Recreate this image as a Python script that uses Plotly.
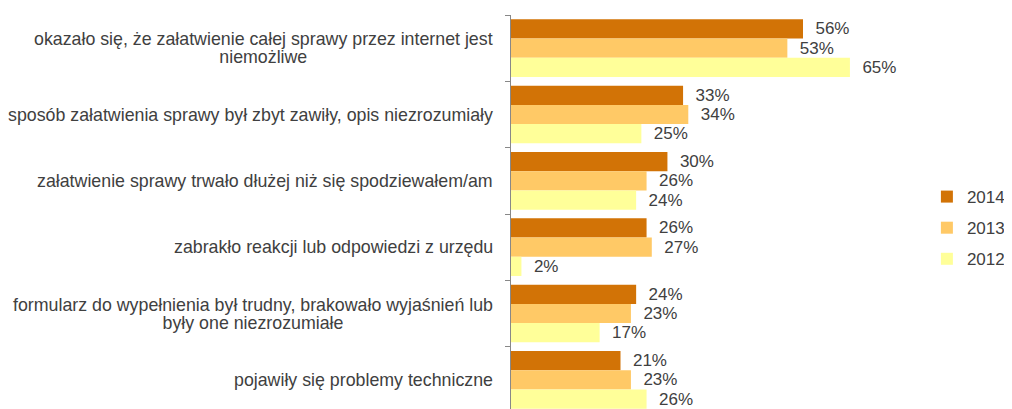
import plotly.graph_objects as go

categories = [
    "okazało się, że załatwienie całej sprawy przez internet jest<br>niemożliwe",
    "sposób załatwienia sprawy był zbyt zawiły, opis niezrozumiały",
    "załatwienie sprawy trwało dłużej niż się spodziewałem/am",
    "zabrakło reakcji lub odpowiedzi z urzędu",
    "formularz do wypełnienia był trudny, brakowało wyjaśnień lub<br>były one niezrozumiałe",
    "pojawiły się problemy techniczne",
]
years = ["2014", "2013", "2012"]
values_2014 = [56, 33, 30, 26, 24, 21]
values_2013 = [53, 34, 26, 27, 23, 23]
values_2012 = [65, 25, 24, 2, 17, 26]
colors = ["#D27306", "#FFC966", "#FFFF99"]

font = "Liberation Sans, Arial, sans-serif"
text_col = "#404040"
hidden = "<span style='color:rgba(0,0,0,0)'>{}</span>"

fig = go.Figure()
for name, vals, col in zip(years, [values_2014, values_2013, values_2012], colors):
    fig.add_trace(go.Bar(
        name=name, y=categories, x=vals, orientation="h",
        marker=dict(color=col, line=dict(width=0)),
        text=vals, texttemplate="\u00a0\u00a0%{x}%", textposition="outside",
        textfont=dict(size=17, color=text_col, family=font),
        cliponaxis=False, legendgroup=name,
    ))

# category labels: lines centred on each other, but closer together than
# plotly's default line height -> one annotation per visible line, the other
# lines kept transparent so every copy has the same width
squeeze = 2.5
for c in categories:
    lines = c.split("<br>")
    n = len(lines)
    for i in range(n):
        txt = "<br>".join(ln if j == i else hidden.format(ln) for j, ln in enumerate(lines))
        fig.add_annotation(
            x=0, xref="paper", y=c, yref="y", text=txt, showarrow=False,
            xanchor="right", align="center", xshift=-16,
            yshift=(i - (n - 1) / 2) * 2 * squeeze if n > 1 else 0,
            font=dict(size=17.8, color=text_col, family=font),
        )

fig.update_layout(
    width=1012, height=409,
    margin=dict(l=503, r=144, t=7, b=4, autoexpand=False),
    barmode="group", bargap=0.13, bargroupgap=0,
    plot_bgcolor="white", paper_bgcolor="white",
    font=dict(family=font, color=text_col, size=17),
    legend=dict(
        xref="container", x=0.908, xanchor="left",
        yref="container", y=0.462, yanchor="middle",
        traceorder="grouped", tracegroupgap=6,
        font=dict(size=17, color=text_col), itemwidth=30,
    ),
    xaxis=dict(range=[0, 70], visible=False),
    yaxis=dict(
        autorange="reversed", showticklabels=False,
        showline=True, linecolor="#888888", linewidth=1,
        ticks="outside", tickson="boundaries", ticklen=5, tickcolor="#888888",
        showgrid=False, zeroline=False,
    ),
)

fig.write_html("out.html")
